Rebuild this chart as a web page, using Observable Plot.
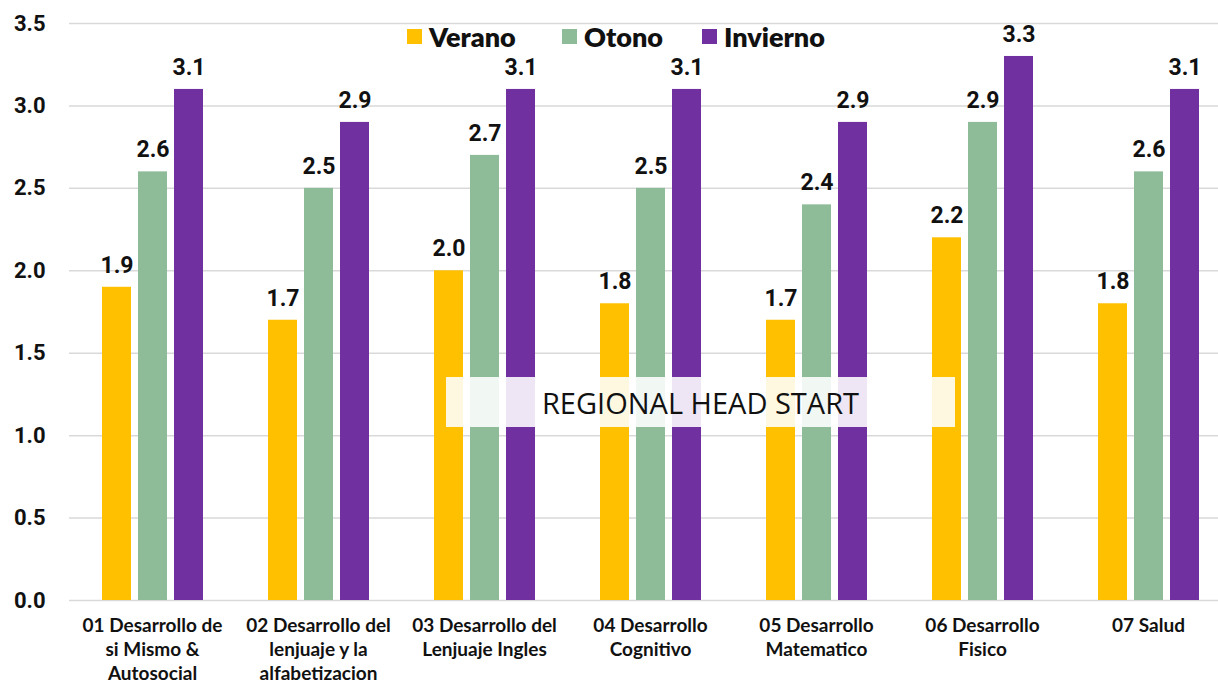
<!DOCTYPE html>
<html>
<head>
<meta charset="utf-8">
<script src="https://cdn.jsdelivr.net/npm/d3@7"></script>
<script src="https://cdn.jsdelivr.net/npm/@observablehq/plot@0.6"></script>
<style>
  html, body { margin: 0; padding: 0; background: #fff; }
  #wrap { position: relative; width: 1218px; height: 685px; overflow: hidden; }
  #chart svg { max-width: none !important; display: block; }
  #legend { position: absolute; top: 0; left: 0; width: 1218px; height: 80px;
    font-family: Lato, "Open Sans", sans-serif; font-weight: 800; font-size: 27px; color: #111; }
  #legend .item { position: absolute; top: 20px; display: flex; align-items: center; }
  #legend .sw { width: 15px; height: 15px; margin-right: 7px; }
  #note { position: absolute; left: 446px; top: 377px; width: 509px; height: 50px;
    background: rgba(255,255,255,0.88); display: flex; align-items: center; justify-content: center;
    font-family: "Open Sans", sans-serif; font-size: 29px; color: #111; }
</style>
</head>
<body>
<div id="wrap">
  <div id="chart"></div>
  <div id="legend"></div>
  <div id="note">REGIONAL HEAD START</div>
</div>
<script>
const categories = ["01", "02", "03", "04", "05", "06", "07"];
const categoryLabels = [
  "01 Desarrollo de\nsi Mismo &\nAutosocial",
  "02 Desarrollo del\nlenjuaje y la\nalfabetizacion",
  "03 Desarrollo del\nLenjuaje Ingles",
  "04 Desarrollo\nCognitivo",
  "05 Desarrollo\nMatematico",
  "06 Desarrollo\nFisico",
  "07 Salud"
];
const series = ["Verano", "Otono", "Invierno"];
const colors = ["#FFC000", "#8FBC98", "#7030A0"];
const verano = [1.9, 1.7, 2.0, 1.8, 1.7, 2.2, 1.8];
const otono = [2.6, 2.5, 2.7, 2.5, 2.4, 2.9, 2.6];
const invierno = [3.1, 2.9, 3.1, 3.1, 2.9, 3.3, 3.1];
const yTicks = [0, 0.5, 1.0, 1.5, 2.0, 2.5, 3.0, 3.5];
const legendLeft = [407, 562, 702];

const values = [verano, otono, invierno];
const data = [];
categories.forEach((c, i) => series.forEach((s, j) => data.push({cat: c, serie: s, value: values[j][i]})));
const labelOf = Object.fromEntries(categories.map((c, i) => [c, categoryLabels[i]]));

const chart = Plot.plot({
  width: 1231,
  height: 685,
  marginLeft: 69,
  marginRight: 0,
  marginTop: 23,
  marginBottom: 85,
  style: {background: "transparent", maxWidth: "none"},
  fx: {domain: categories, padding: 0, axis: null},
  x: {domain: series, paddingInner: 0.2, paddingOuter: 0.845, axis: null},
  y: {domain: [0, 3.5], axis: null},
  color: {domain: series, range: colors},
  marks: [
    Plot.gridY(yTicks, {stroke: "#d9d9d9", strokeOpacity: 1, strokeWidth: 1.5}),
    Plot.axisY(yTicks, {label: null, tickSize: 0, tickPadding: 24, tickFormat: d3.format(".1f"),
      fontSize: 22, fontWeight: "bold", fill: "#111", fontFamily: "Roboto"}),
    Plot.barY(data, {fx: "cat", x: "serie", y: "value", fill: "serie"}),
    Plot.text(data, {fx: "cat", x: "serie", y: "value", text: d => d.value.toFixed(1),
      dy: -22, fontSize: 23, fontWeight: "bold", fill: "#111", fontFamily: "Roboto"}),
    Plot.text(categories, {fx: d => d, y: 0, text: d => labelOf[d],
      lineAnchor: "top", dy: 15, lineHeight: 1.25, fontSize: 19, fontWeight: "bold",
      fill: "#111", fontFamily: "Lato"})
  ]
});
document.getElementById("chart").appendChild(chart);

const legend = document.getElementById("legend");
series.forEach((s, i) => {
  const item = document.createElement("div");
  item.className = "item";
  item.style.left = legendLeft[i] + "px";
  item.innerHTML = `<div class="sw" style="background:${colors[i]}"></div><span>${s}</span>`;
  legend.appendChild(item);
});
</script>
</body>
</html>
